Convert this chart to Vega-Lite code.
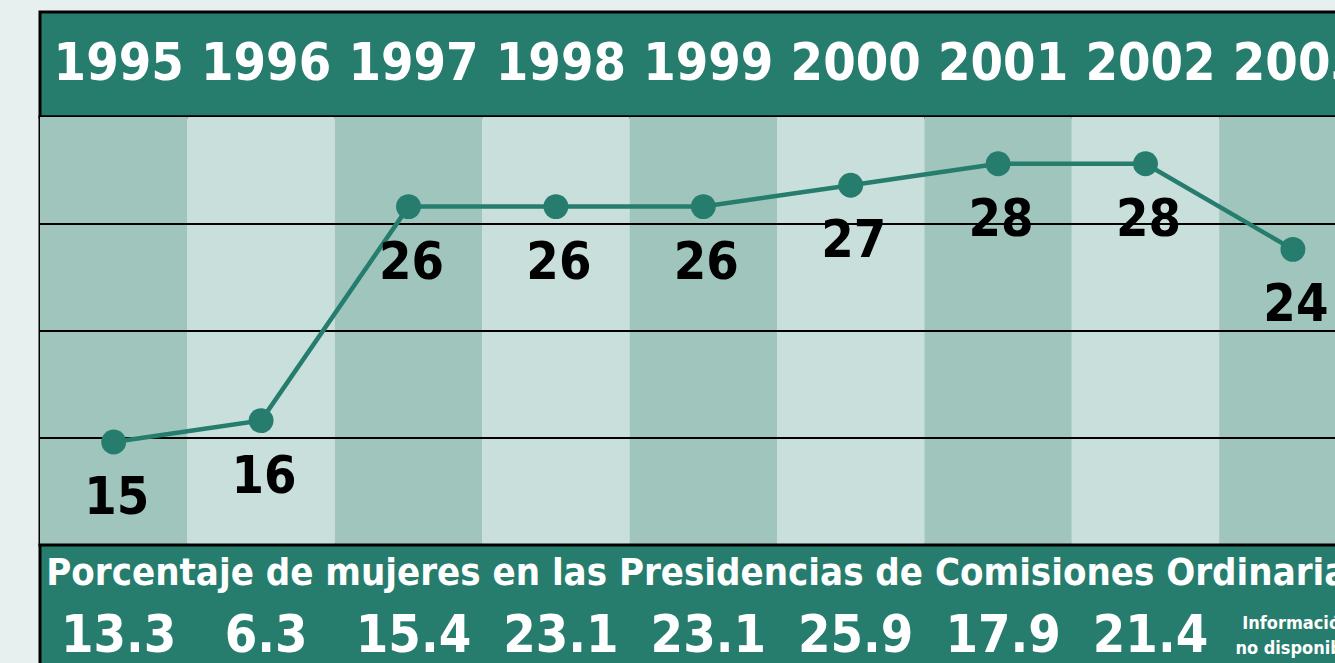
{
  "$schema": "https://vega.github.io/schema/vega-lite/v6.json",
  "background": "#e8f0ef",
  "padding": {"left": 37, "top": 10, "right": 0, "bottom": 0},
  "bounds": "flush",
  "config": {
    "concat": {"spacing": 0},
    "view": {"stroke": "#000000", "strokeWidth": 3},
    "text": {"font": "DejaVu Sans Condensed", "fontWeight": "bold"}
  },
  "datasets": {
    "main": [
      {"year": "1995", "pct": 15, "comisiones": 13.3},
      {"year": "1996", "pct": 16, "comisiones": 6.3},
      {"year": "1997", "pct": 26, "comisiones": 15.4},
      {"year": "1998", "pct": 26, "comisiones": 23.1},
      {"year": "1999", "pct": 26, "comisiones": 23.1},
      {"year": "2000", "pct": 27, "comisiones": 25.9},
      {"year": "2001", "pct": 28, "comisiones": 17.9},
      {"year": "2002", "pct": 28, "comisiones": 21.4},
      {"year": "2003", "pct": 24, "comisiones": null, "nota": "Información\nno disponible"}
    ]
  },
  "vconcat": [
    {
      "width": 1298,
      "height": 105,
      "view": {"fill": "#267d6d"},
      "data": {"name": "main"},
      "mark": {"type": "text", "fontSize": 52, "color": "#ffffff", "baseline": "middle", "dx": 5, "dy": -1, "clip": true},
      "encoding": {
        "x": {"field": "year", "type": "ordinal", "axis": null, "scale": {"range": [0, 1326.6], "paddingInner": 0, "paddingOuter": 0}},
        "text": {"field": "year"}
      }
    },
    {
      "width": 1298,
      "height": 428,
      "data": {"name": "main"},
      "encoding": {
        "x": {"field": "year", "type": "ordinal", "axis": null, "scale": {"range": [0, 1326.6], "paddingInner": 0, "paddingOuter": 0}}
      },
      "layer": [
        {
          "mark": {"type": "bar", "clip": true},
          "encoding": {
            "color": {"field": "year", "type": "ordinal", "legend": null,
              "scale": {"range": ["#9fc5bd", "#c9dfdc", "#9fc5bd", "#c9dfdc", "#9fc5bd", "#c9dfdc", "#9fc5bd", "#c9dfdc", "#9fc5bd"]}}
          }
        },
        {
          "data": {"values": [{"g": 15}, {"g": 20}, {"g": 25}]},
          "mark": {"type": "rule", "color": "#000000", "strokeWidth": 2},
          "encoding": {
            "x": null,
            "y": {"field": "g", "type": "quantitative", "scale": {"domain": [10, 30]}, "axis": null}
          }
        },
        {
          "mark": {"type": "line", "color": "#267d6d", "strokeWidth": 4.5, "yOffset": 4},
          "encoding": {
            "y": {"field": "pct", "type": "quantitative", "scale": {"domain": [10, 30]}, "axis": null}
          }
        },
        {
          "mark": {"type": "point", "filled": true, "opacity": 1, "size": 620, "color": "#267d6d", "yOffset": 4},
          "encoding": {
            "y": {"field": "pct", "type": "quantitative", "scale": {"domain": [10, 30]}, "axis": null}
          }
        },
        {
          "mark": {"type": "text", "fontSize": 52, "color": "#000000", "baseline": "middle", "dy": 60, "dx": 3},
          "encoding": {
            "y": {"field": "pct", "type": "quantitative", "scale": {"domain": [10, 30]}, "axis": null},
            "text": {"field": "pct", "type": "quantitative"}
          }
        }
      ]
    },
    {
      "width": 1298,
      "height": 120,
      "view": {"fill": "#267d6d"},
      "data": {"name": "main"},
      "layer": [
        {
          "data": {"values": [{"t": "Porcentaje de mujeres en las Presidencias de Comisiones Ordinarias"}]},
          "mark": {"type": "text", "fontSize": 38, "color": "#ffffff", "baseline": "middle", "align": "center", "dy": -31, "dx": 18, "clip": true},
          "encoding": {"text": {"field": "t"}}
        },
        {
          "transform": [{"filter": "datum.comisiones != null"}],
          "mark": {"type": "text", "fontSize": 52, "color": "#ffffff", "baseline": "middle", "dy": 31, "dx": 5, "clip": true},
          "encoding": {
            "x": {"field": "year", "type": "ordinal", "axis": null, "scale": {"range": [0, 1326.6], "paddingInner": 0, "paddingOuter": 0}},
            "text": {"field": "comisiones", "type": "quantitative", "format": ".1f"}
          }
        },
        {
          "transform": [{"filter": "datum.nota != null"}],
          "mark": {"type": "text", "fontSize": 18, "color": "#ffffff", "baseline": "middle", "dy": 19, "dx": 4, "lineBreak": "\n", "lineHeight": 25, "clip": true},
          "encoding": {
            "x": {"field": "year", "type": "ordinal", "axis": null, "scale": {"range": [0, 1326.6], "paddingInner": 0, "paddingOuter": 0}},
            "text": {"field": "nota"}
          }
        }
      ]
    }
  ]
}
